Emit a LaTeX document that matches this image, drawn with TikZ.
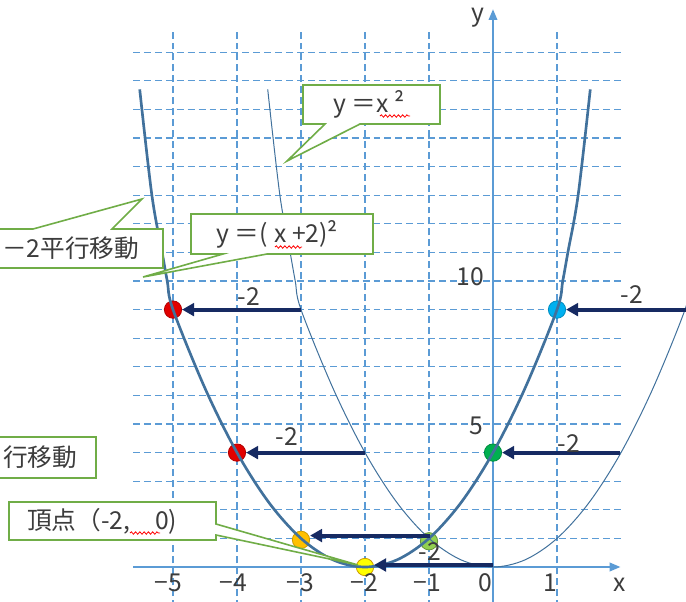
\documentclass[tikz,border=0pt]{standalone}
\usepackage{fontspec}
\setmainfont{Noto Sans CJK JP}
\usetikzlibrary{arrows.meta,decorations.pathmorphing}
\definecolor{gridblue}{RGB}{91,155,213}
\definecolor{curveblue}{RGB}{65,113,156}
\definecolor{navy}{RGB}{22,42,98}
\definecolor{boxgreen}{RGB}{112,173,71}
\definecolor{txt}{RGB}{60,60,60}
\definecolor{dotred}{RGB}{225,0,0}
\definecolor{dotcyan}{RGB}{0,176,240}
\definecolor{dotgreen}{RGB}{0,176,80}
\definecolor{dotorange}{RGB}{255,192,0}
\definecolor{dotlime}{RGB}{146,208,80}
\definecolor{dotyellow}{RGB}{255,255,0}
\tikzset{
  gridline/.style={draw=gridblue,line width=0.95pt,dash pattern=on 5.2pt off 3pt},
  axisline/.style={draw=gridblue,line width=1.1pt,-{Triangle[length=8pt,width=6.5pt]}},
  thickcurve/.style={draw=curveblue,line width=2pt},
  thincurve/.style={draw=curveblue,line width=0.75pt},
  movearrow/.style={draw=navy,line width=3pt,-{Triangle[length=9pt,width=9.5pt]}},
  dotmark/.style={circle,minimum size=13pt,inner sep=0pt,line width=0.6pt},
  lbl/.style={text=txt,inner sep=0pt,font=\fontsize{18.5}{22}\selectfont},
  callout/.style={draw=boxgreen,fill=white,line width=1.2pt,line join=miter},
  wavy/.style={draw=red,line width=0.6pt,decorate,decoration={snake,amplitude=0.9pt,segment length=3.2pt}}
}
\begin{document}
\begin{tikzpicture}[x=0.75pt,y=-0.75pt]
\useasboundingbox (0,0) rectangle (686,601);
\clip (0,0) rectangle (686,601);
\begin{scope}[shift={(493,567)},x=48pt,y=21.45pt]
  % grid
  \foreach \k in {1,...,18} \draw[gridline] (-5.625,\k) -- (2.0,\k);
  \foreach \k in {-5,-4,-3,-2,-1,1} \draw[gridline] (\k,-1.4) -- (\k,18.81);
  % axes
  \coordinate (xa0) at (-5.625,0);
  \coordinate (xa1) at (1.99,0);
  \coordinate (ya0) at (0,-1.4);
  \coordinate (ya1) at (0,19.5);
  \draw[axisline] (xa0) -- (xa1);
  \draw[axisline] (ya0) -- (ya1);
  % dots
  \node[dotmark,fill=dotred,draw=red!70!black] (d1) at (-5,9) {};
  \node[dotmark,fill=dotcyan,draw=dotcyan!80!black] (d2) at (1,9) {};
  \node[dotmark,fill=dotred,draw=red!70!black] (d3) at (-4,4) {};
  \node[dotmark,fill=dotgreen,draw=dotgreen!80!black] (d4) at (0,4) {};
  \node[dotmark,fill=dotorange,draw=dotorange!80!black] (d5) at (-3,0.95) {};
  \node[dotmark,fill=dotlime,draw=dotlime!70!black] (d6) at (-1,0.9) {};
  \node[dotmark,fill=dotyellow,draw=dotorange!80!black] (d7) at (-2,0) {};
  % curves
  \begin{scope}[shift={(-2,0)}]
    \draw[thickcurve] plot[smooth,tension=0.55] coordinates {(-3.52,16.7) (-3.33,13) (-3.17,11) (-3.09,10) (-3,9) (-2.5,6.25) (-2,4) (-1.5,2.25) (-1,1) (-0.5,0.25) (0,0) (0.5,0.25) (1,1) (1.5,2.25) (2,4) (2.5,6.25) (3,9) (3.09,10) (3.17,11) (3.33,13) (3.52,16.7)};
  \end{scope}
  \draw[thincurve] plot[smooth,tension=0.55] coordinates {(-3.52,16.7) (-3.33,13) (-3.17,11) (-3.09,10) (-3,9) (-2.5,6.25) (-2,4) (-1.5,2.25) (-1,1) (-0.5,0.25) (0,0) (0.5,0.25) (1,1) (1.5,2.25) (2,4) (2.5,6.25) (3,9) (3.09,10) (3.17,11) (3.33,13) (3.52,16.7)};
  % arrow starts
  \coordinate (s1) at (-3,9);
  \coordinate (s2) at (3.1,9);
  \coordinate (s3) at (-2,4);
  \coordinate (s4) at (1.99,4);
  \coordinate (s5) at (-0.98,1.1);
  \coordinate (s6) at (0,0.07);
  \draw[movearrow] (s1) -- (d1.east |- s1);
  \draw[movearrow] (s2) -- (d2.east |- s2);
  \draw[movearrow] (s3) -- (d3.east |- s3);
  \draw[movearrow] (s4) -- (d4.east |- s4);
  \draw[movearrow] (s5) -- (d5.east |- s5);
  \draw[movearrow] (s6) -- (d7.east |- s6);
\end{scope}
% move labels
\node[lbl] (m1) at (249,297) {-2};
\node[lbl] (m2) at (632,295) {-2};
\node[lbl] (m3) at (287,437) {-2};
\node[lbl] (m4) at (569,444) {-2};
\node[lbl] (m5) at (430,552) {-2};
% tick labels
\node[lbl] (tm5) at (168,583) {−5};
\node[lbl] (tm4) at (233,583) {−4};
\node[lbl] (tm3) at (300,583) {−3};
\node[lbl] (tm2) at (364,583) {−2};
\node[lbl] (tm1) at (427,583) {−1};
\node[lbl] (t0) at (485,583) {0};
\node[lbl] (t1) at (550,583) {1};
\node[lbl] (xl) at (620,585) {x};
\node[lbl] (yl) at (478,18) {y};
\node[lbl] (y10) at (470,277) {10};
\node[lbl] (y5) at (476,426) {5};
% callouts
\draw[callout] (303,85) -- (440,85) -- (440,124) -- (360,124) -- (287,161) -- (325,124) -- (303,124) -- cycle;
\node[lbl,anchor=west] (c1) at (333,104) {y ＝x ²};
\draw[wavy] (380,116) -- (410,116);
\draw[callout] (191,214) -- (373,214) -- (373,254) -- (267,254) -- (143,277) -- (223,254) -- (191,254) -- cycle;
\node[lbl,anchor=west] (c2) at (216,234) {y ＝(\hspace{5pt}x +2)²};
\draw[wavy] (275,247) -- (302,247);
\draw[callout] (-10,229) -- (33,229) -- (142,199) -- (112,229) -- (163,229) -- (163,268) -- (-10,268) -- cycle;
\node[lbl,anchor=west] (c3) at (2,248) {－2平行移動};
\draw[callout] (-10,437) -- (96,437) -- (96,478) -- (-10,478) -- cycle;
\node[lbl,anchor=west] (c4) at (3,457) {行移動};
\draw[callout] (9,502) -- (216,502) -- (216,524) -- (358,565) -- (216,535) -- (216,540) -- (9,540) -- cycle;
\node[lbl,anchor=west] (c5) at (27,521) {頂点（-2,　0)};
\draw[wavy] (130,533) -- (160,533);
\end{tikzpicture}
\end{document}
